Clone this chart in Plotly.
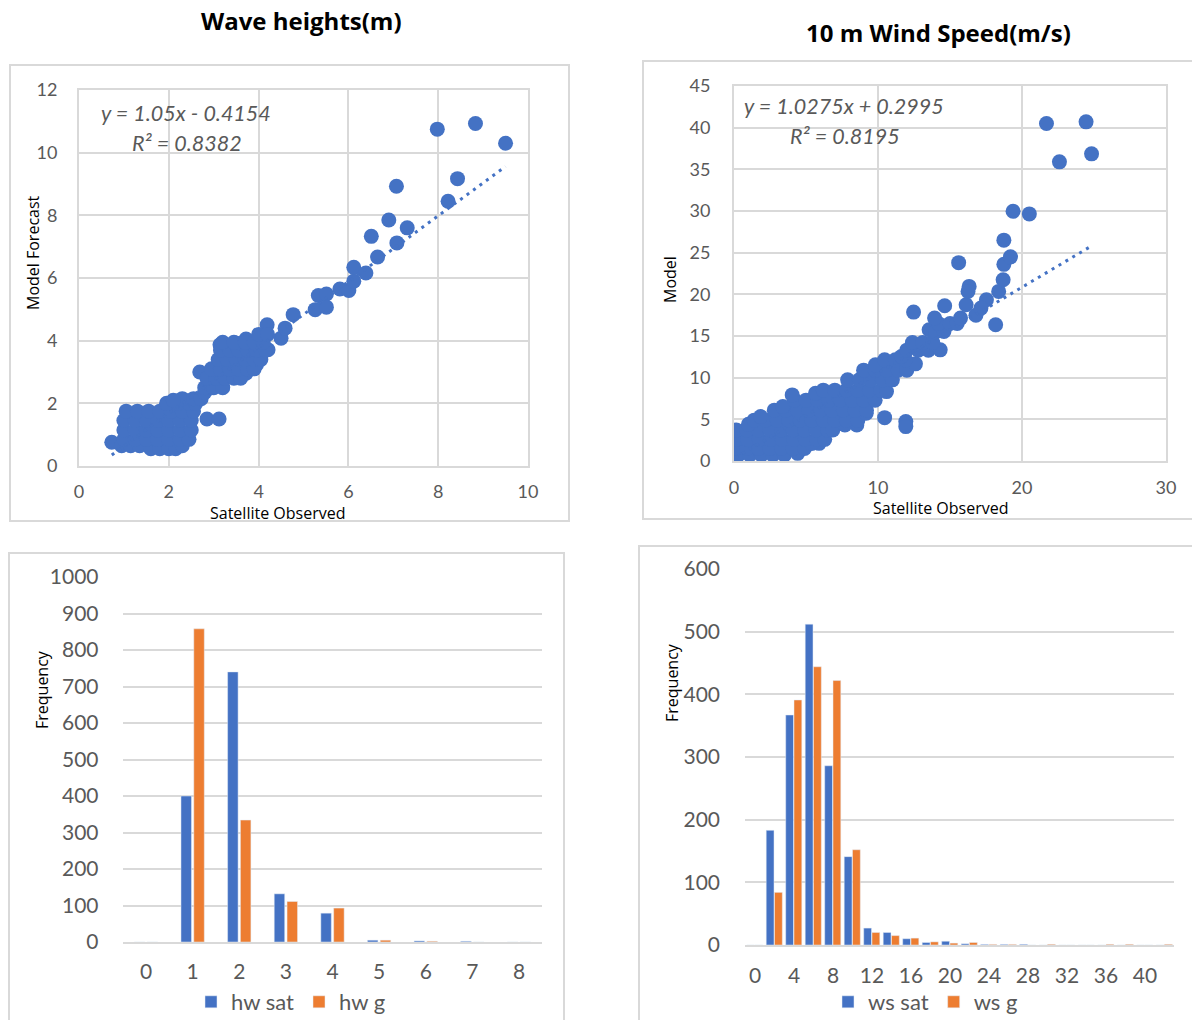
import plotly.graph_objects as go

# ---------------- data ----------------
# Wave heights (m): satellite observed vs model forecast
hw_obs = [
    # main cloud
    0.73, 0.95, 1.15, 1.35, 1.6, 1.8, 2.0, 2.15, 2.3,
    1.0, 1.25, 1.5, 1.75, 2.0, 2.25, 2.45,
    1.0, 1.25, 1.5, 1.75, 2.0, 2.25, 2.5,
    1.0, 1.25, 1.5, 1.75, 2.0, 2.25, 2.5, 2.85, 3.12,
    1.05, 1.3, 1.55, 1.8, 2.05, 2.3, 2.55,
    1.95, 2.2, 2.45, 2.6, 2.3, 2.55, 2.72, 2.8, 2.1,
    # second cloud
    2.69, 2.95, 3.2, 3.14, 3.51, 3.72, 4.19, 4.05, 4.21, 3.95, 3.72,
    2.8, 3.0, 3.2,
    2.85, 3.05, 3.25, 3.45, 3.6,
    2.95, 3.15, 3.35, 3.55, 3.75, 3.9,
    3.1, 3.3, 3.5, 3.7, 3.9, 4.05,
    3.15, 3.35, 3.55, 3.75, 3.95, 4.15,
    3.2, 3.45, 3.7, 3.9, 4.1,
    4.0, 4.2,
    # upper tail
    4.5, 4.59, 4.77, 5.26, 5.33, 5.51, 5.51, 5.81, 6.01, 6.12,
    6.12, 6.39, 6.65, 6.51, 7.08, 7.31, 6.9, 7.07, 8.22, 8.43,
    7.98, 8.83, 9.5,
]
hw_fc = [
    # main cloud
    0.76, 0.65, 0.65, 0.65, 0.55, 0.55, 0.55, 0.55, 0.65,
    0.85, 0.85, 0.85, 0.85, 0.85, 0.85, 0.85,
    1.15, 1.15, 1.15, 1.15, 1.15, 1.15, 1.15,
    1.45, 1.45, 1.45, 1.45, 1.45, 1.45, 1.45, 1.5, 1.5,
    1.75, 1.75, 1.75, 1.75, 1.75, 1.75, 1.75,
    2.0, 2.0, 2.0, 2.0, 2.15, 2.15, 2.15, 2.35, 2.1,
    # second cloud
    3.0, 2.5, 2.52, 3.87, 3.92, 4.05, 4.51, 4.14, 3.71, 3.23, 2.96,
    2.5, 2.5, 2.5,
    2.8, 2.8, 2.8, 2.8, 2.8,
    3.1, 3.1, 3.1, 3.1, 3.1, 3.1,
    3.4, 3.4, 3.4, 3.4, 3.4, 3.4,
    3.7, 3.7, 3.7, 3.7, 3.7, 3.7,
    3.95, 3.95, 3.95, 3.95, 3.95,
    4.2, 4.2,
    # upper tail
    4.08, 4.4, 4.83, 4.99, 5.44, 5.49, 5.07, 5.65, 5.6, 5.9,
    6.34, 6.16, 6.67, 7.33, 7.12, 7.6, 7.85, 8.93, 8.45, 9.17,
    10.75, 10.93, 10.3,
]
hw_slope, hw_intercept, hw_r2 = 1.05, -0.4154, 0.8382

# 10 m wind speed (m/s): satellite observed vs model
ws_obs = [
    0.3, 1.1, 1.9, 2.7, 3.5, 4.42,
    0.1, 0.9, 1.7, 2.5, 3.3, 4.1, 4.9, 5.91, 5.4,
    0.15, 0.95, 1.75, 2.55, 3.35, 4.15, 4.95, 5.75, 6.3,
    0.15, 0.9, 1.7, 2.5, 3.3, 4.1, 4.9, 5.7, 6.5, 6.86, 8.53, 7.7, 1.0,
    1.4, 2.2, 3.0, 3.8, 4.6, 5.4, 6.2, 7.0, 7.8, 8.6, 9.18, 1.85,
    2.8, 3.6, 4.4, 5.2, 6.0, 6.8, 7.6, 8.4, 9.2, 3.39,
    4.2, 5.0, 5.8, 6.6, 7.4, 8.2, 9.0, 9.8, 4.04, 5.66,
    6.2, 7.0, 7.8, 8.6, 9.4, 10.2, 10.59,
    7.89, 8.7, 9.5, 10.3, 11.0,
    9.0, 9.8, 10.6, 11.4, 12.0, 9.82, 12.6,
    10.46, 11.2, 11.9, 11.62,
    12.0, 12.8, 13.5, 14.32, 12.39, 13.1, 13.8,
    13.55, 14.0, 14.58, 14.2, 15.0, 15.5,
    13.93, 15.73, 12.47, 14.63, 16.12, 16.8,
    10.46, 11.93, 11.93,
    15.6, 16.33, 16.25, 17.53, 17.15, 18.17, 18.38, 18.69, 18.74, 19.2,
    18.74, 19.38, 20.51, 21.7, 24.45, 22.6, 24.83,
]
ws_mod = [
    0.72, 0.72, 0.72, 0.72, 0.72, 0.92,
    1.5, 1.5, 1.5, 1.5, 1.5, 1.5, 1.5, 2.12, 2.1,
    2.6, 2.6, 2.6, 2.6, 2.6, 2.6, 2.6, 2.6, 2.6,
    3.73, 3.73, 3.73, 3.73, 3.73, 3.73, 3.73, 3.73, 3.73, 3.73, 4.33, 4.33, 4.4,
    4.9, 4.9, 4.9, 4.9, 4.9, 4.9, 4.9, 4.9, 4.9, 4.9, 5.73, 5.33,
    6.1, 6.1, 6.1, 6.1, 6.1, 6.1, 6.1, 6.1, 6.1, 6.53,
    7.3, 7.3, 7.3, 7.3, 7.3, 7.3, 7.3, 7.3, 7.93, 8.13,
    8.5, 8.5, 8.5, 8.5, 8.5, 8.5, 8.33,
    9.74, 9.74, 9.74, 9.74, 9.74,
    10.9, 10.9, 10.9, 10.9, 10.9, 11.54, 11.66,
    12.14, 12.14, 12.14, 12.54,
    13.3, 13.3, 13.3, 13.34, 14.22, 14.22, 14.22,
    15.75, 15.5, 15.54, 16.5, 16.5, 16.5,
    17.15, 17.15, 17.87, 18.63, 18.75, 17.5,
    5.2, 4.73, 4.13,
    23.8, 20.95, 20.35, 19.35, 18.35, 16.35, 20.35, 21.75, 23.6, 24.5,
    26.5, 29.97, 29.65, 40.5, 40.7, 35.9, 36.86,
]
ws_slope, ws_intercept, ws_r2 = 1.0275, 0.2995, 0.8195

# Frequency histograms
hw_bins = [0, 1, 2, 3, 4, 5, 6, 7, 8]
hw_sat = [0, 400, 740, 132, 79, 5, 3, 2, 0]
hw_g = [0, 858, 334, 111, 93, 5, 2, 0, 0]

ws_bins = [0, 2, 4, 6, 8, 10, 12, 14, 16, 18, 20, 22, 24, 26, 28, 30, 32, 34, 36, 38, 40, 42]
ws_sat = [0, 183, 367, 512, 286, 141, 27, 20, 10, 4, 6, 2, 1, 1, 1, 0, 0, 0, 0, 0, 0, 0]
ws_g = [0, 84, 391, 444, 422, 152, 20, 15, 11, 5, 3, 4, 1, 1, 0, 1, 0, 0, 1, 1, 0, 1]

# ---------------- styling ----------------
W, H = 1192, 1020
BLUE = "#4472C4"
ORANGE = "#ED7D31"
GRID = "#d9d9d9"
TICK = "#595959"
TICK_FONT = "Lato"
TITLE_FONT = "Open Sans"


def px(x):
    """pixel column -> paper fraction"""
    return x / W


def py(y):
    """pixel row (from top) -> paper fraction"""
    return 1 - y / H


fig = go.Figure()

# scatter panels with linear trendlines
for obs, mod, slope, icpt, xa, ya in [
    (hw_obs, hw_fc, hw_slope, hw_intercept, "x", "y"),
    (ws_obs, ws_mod, ws_slope, ws_intercept, "x2", "y2"),
]:
    fig.add_trace(go.Scatter(
        x=obs, y=mod, mode="markers", xaxis=xa, yaxis=ya, showlegend=False,
        marker=dict(size=15, color=BLUE, line=dict(width=0)),
    ))
    x0, x1 = min(obs), max(obs)
    fig.add_trace(go.Scatter(
        x=[x0, x1], y=[slope * x0 + icpt, slope * x1 + icpt], mode="lines",
        xaxis=xa, yaxis=ya, showlegend=False,
        line=dict(color=BLUE, width=3, dash="3px,5px"),
    ))

# histogram panels
fig.add_trace(go.Bar(x=hw_bins, y=hw_sat, name="hw sat", marker_color=BLUE,
                     offset=-0.25, width=0.225, xaxis="x3", yaxis="y3", legend="legend"))
fig.add_trace(go.Bar(x=hw_bins, y=hw_g, name="hw g", marker_color=ORANGE,
                     offset=0.025, width=0.225, xaxis="x3", yaxis="y3", legend="legend"))
fig.add_trace(go.Bar(x=ws_bins, y=ws_sat, name="ws sat", marker_color=BLUE,
                     offset=-0.85, width=0.8, xaxis="x4", yaxis="y4", legend="legend2"))
fig.add_trace(go.Bar(x=ws_bins, y=ws_g, name="ws g", marker_color=ORANGE,
                     offset=0.0, width=0.8, xaxis="x4", yaxis="y4", legend="legend2"))


def scatter_axis(dom, rng, dtick, ticklen, size, anchor):
    return dict(
        domain=dom, range=rng, dtick=dtick, tick0=0, anchor=anchor, automargin=False,
        showgrid=True, gridcolor=GRID, gridwidth=2, zeroline=False,
        showline=True, linecolor=GRID, linewidth=2, mirror=True,
        ticks="outside", ticklen=ticklen, tickcolor="rgba(0,0,0,0)",
        tickfont=dict(family=TICK_FONT, size=size, color=TICK), fixedrange=True,
    )


def bar_xaxis(dom, rng, tickvals, ticklen, anchor):
    return dict(
        domain=dom, range=rng, anchor=anchor, automargin=False,
        tickvals=tickvals, showgrid=False, zeroline=False,
        showline=True, linecolor=GRID, linewidth=2,
        ticks="outside", ticklen=ticklen, tickcolor="rgba(0,0,0,0)",
        tickfont=dict(family=TICK_FONT, size=21, color=TICK),
    )


def bar_yaxis(dom, rng, ticklen, anchor):
    return dict(
        domain=dom, range=rng, dtick=100, anchor=anchor, automargin=False,
        showgrid=True, gridcolor=GRID, gridwidth=2, zeroline=False, showline=False,
        ticks="outside", ticklen=ticklen, tickcolor="rgba(0,0,0,0)",
        tickfont=dict(family=TICK_FONT, size=21, color=TICK),
    )


def bar_legend(x):
    return dict(
        orientation="h", x=px(x), y=py(1002), xanchor="left", yanchor="middle",
        font=dict(family=TICK_FONT, size=22, color=TICK), bgcolor="rgba(0,0,0,0)",
        itemclick=False, itemdoubleclick=False,
    )


fig.update_layout(
    width=W, height=H,
    margin=dict(l=0, r=0, t=0, b=0, pad=0, autoexpand=False),
    paper_bgcolor="white", plot_bgcolor="white", barmode="overlay",
    xaxis=scatter_axis([px(79), px(528)], [0, 10], 2, 8, 18, "y"),
    yaxis=scatter_axis([py(466), py(90)], [0, 12], 2, 16, 18, "x"),
    xaxis2=scatter_axis([px(734), px(1166)], [0, 30], 10, 9, 18, "y2"),
    yaxis2=scatter_axis([py(461), py(86)], [0, 45], 5, 18, 18, "x2"),
    xaxis3=bar_xaxis([px(122.7), px(542.3)], [-0.5, 8.5], hw_bins, 10, "y3"),
    yaxis3=bar_yaxis([py(942), py(577)], [0, 1000], 19, "x3"),
    xaxis4=bar_xaxis([px(745.25), px(1174.25)], [-1, 43], ws_bins[::2], 11, "y4"),
    yaxis4=bar_yaxis([py(945), py(569)], [0, 600], 20, "x4"),
    legend=bar_legend(191),
    legend2=bar_legend(828),
)

# chart frames
for x0, y0, x1, y1 in [(10, 65, 569, 521), (643, 61, 1200, 519),
                       (9, 553, 564, 1030), (639, 546, 1200, 1030)]:
    fig.add_shape(type="rect", xref="paper", yref="paper",
                  x0=px(x0), x1=px(x1), y0=py(y0), y1=py(y1),
                  line=dict(color=GRID, width=2), fillcolor="rgba(0,0,0,0)", layer="below")


def label(text, x, y, size, color="black", family=TITLE_FONT, angle=0, weight="normal", style="normal"):
    fig.add_annotation(
        text=text, x=px(x), y=py(y), xref="paper", yref="paper",
        xanchor="center", yanchor="middle", showarrow=False, textangle=angle,
        font=dict(family=family, size=size, color=color, weight=weight, style=style),
    )


# titles
label("Wave heights(m)", 301, 20, 24, weight="bold")
label("10 m Wind Speed(m/s)", 938, 32, 24, weight="bold")

# axis titles
label("Model Forecast", 33, 253, 16, angle=-90)
label("Satellite Observed", 277, 513, 16)
label("Model", 670, 280, 16, angle=-90)
label("Satellite Observed", 940, 508, 16)
label("Frequency", 42, 690, 16, angle=-90)
label("Frequency", 672, 683, 16, angle=-90)

# regression equations
label(f"y = {hw_slope}x - {abs(hw_intercept)}", 186, 113, 21.5, color=TICK, family=TICK_FONT, style="italic")
label(f"R² = {hw_r2}", 187, 143, 21.5, color=TICK, family=TICK_FONT, style="italic")
label(f"y = {ws_slope}x + {ws_intercept}", 844, 106, 21.5, color=TICK, family=TICK_FONT, style="italic")
label(f"R² = {ws_r2}", 845, 136, 21.5, color=TICK, family=TICK_FONT, style="italic")

fig.write_html("out.html")
